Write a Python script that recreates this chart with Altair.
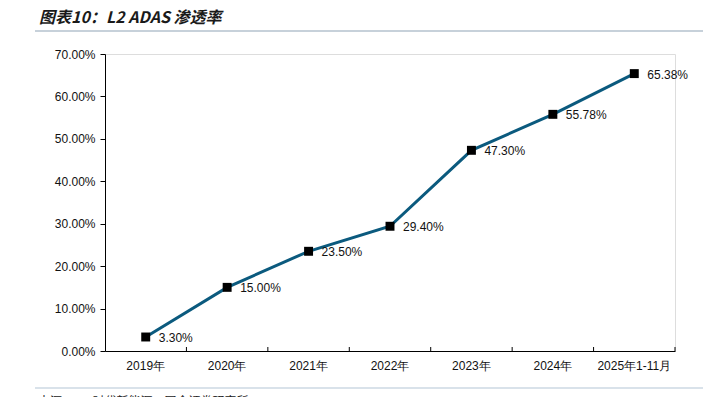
import altair as alt
import pandas as pd

categories = ["2019年", "2020年", "2021年", "2022年", "2023年", "2024年", "2025年1-11月"]
values = [0.033, 0.15, 0.235, 0.294, 0.473, 0.5578, 0.6538]
labels = ["3.30%", "15.00%", "23.50%", "29.40%", "47.30%", "55.78%", "65.38%"]
y_ticks = [0, 0.1, 0.2, 0.3, 0.4, 0.5, 0.6, 0.7]

title_text = "图表10：L2 ADAS 渗透率"
source_text = "来源：NE 时代新能源，国金证券研究所"

df = pd.DataFrame({"cat": categories, "val": values, "lab": labels})

W, H = 570, 297
FONT = "Liberation Sans"

xs = alt.Scale(type="band", paddingInner=0, paddingOuter=0, domain=categories)
ys = alt.Scale(domain=[0, 0.7], nice=False)

base = alt.Chart(df)

line = base.mark_line(color="#0b5a7e", strokeWidth=3).encode(
    x=alt.X("cat:N", scale=xs, sort=categories,
            axis=alt.Axis(title=None, labelAngle=0, ticks=False, domainColor="#000",
                          labelFont=FONT, labelFontSize=12, labelColor="#111",
                          labelPadding=9, labelFlush=False)),
    y=alt.Y("val:Q", scale=ys,
            axis=alt.Axis(title=None, values=y_ticks, format=".2%", grid=False,
                          domainColor="#000", tickColor="#000", tickSize=5,
                          labelFont=FONT, labelFontSize=12, labelColor="#111",
                          labelPadding=5)),
)

pts = base.mark_square(color="#000", size=80, opacity=1).encode(
    x=alt.X("cat:N", scale=xs, sort=categories),
    y=alt.Y("val:Q", scale=ys),
)

txt = base.mark_text(align="left", baseline="middle", dx=13, dy=1, font=FONT,
                     fontSize=12, color="#111").encode(
    x=alt.X("cat:N", scale=xs, sort=categories),
    y=alt.Y("val:Q", scale=ys),
    text="lab:N",
)

ticks = base.mark_rule(color="#000", strokeWidth=1).encode(
    x=alt.X("cat:N", scale=xs, sort=categories, bandPosition=1),
    y=alt.value(H - 4),
    y2=alt.value(H),
)

deco = pd.DataFrame({"k": [0]})
title_mark = alt.Chart(deco).mark_text(
    align="left", baseline="middle", font="Noto Sans CJK SC", fontSize=16,
    fontWeight="bold", fontStyle="italic", color="#1a1a1a"
).encode(x=alt.value(-66), y=alt.value(-36), text=alt.value(title_text))

title_line = alt.Chart(deco).mark_rule(color="#8fa3b6", strokeWidth=1.2).encode(
    x=alt.value(-70), x2=alt.value(606), y=alt.value(-23))

foot_line = alt.Chart(deco).mark_rule(color="#b3c5d5", strokeWidth=1.2).encode(
    x=alt.value(-70), x2=alt.value(606), y=alt.value(37 + H))

foot_text = alt.Chart(deco).mark_text(
    align="left", baseline="middle", font="Noto Sans CJK SC", fontSize=12, color="#222"
).encode(x=alt.value(-67), y=alt.value(H + 51), text=alt.value(source_text))

chart = alt.layer(line, ticks, pts, txt, title_mark, title_line, foot_line, foot_text).properties(
    width=W, height=H,
    autosize=alt.AutoSizeParams(type="none"),
    padding={"left": 97, "top": 46, "right": 28, "bottom": 46},
).configure_view(stroke=None).configure(background="white")

chart.save("out.html", embed_options={"renderer": "svg", "actions": False})
